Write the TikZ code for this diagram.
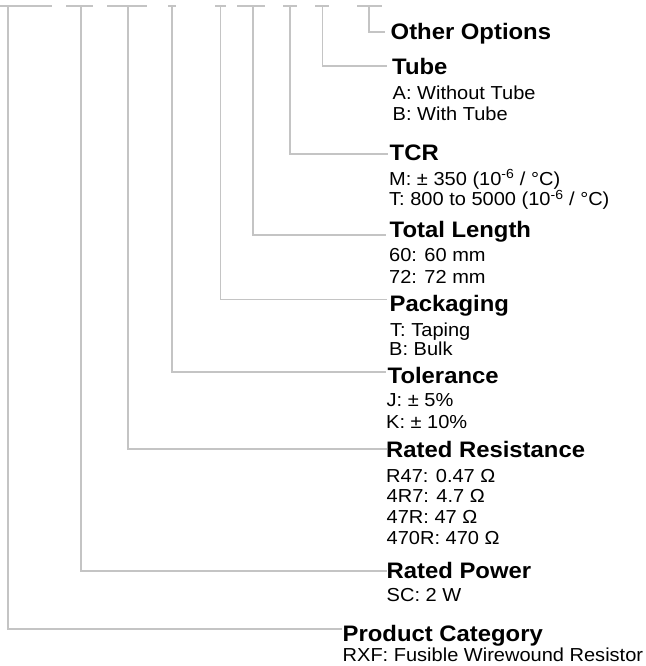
\documentclass[tikz,border=0pt]{standalone}
\usepackage{fontspec}
\setmainfont{Liberation Sans}[FakeStretch=1.065]
\definecolor{conncol}{RGB}{196,196,196}
\tikzset{
  conn/.style={draw=conncol, line width=1.8pt},
  ttl/.style={anchor=base west, inner sep=0pt, font=\fontsize{22.4}{24}\selectfont\bfseries},
  bdy/.style={anchor=base west, inner sep=0pt, font=\fontsize{18.8}{20.7}\selectfont},
}
\begin{document}
\begin{tikzpicture}[x=1pt,y=-1pt]
\useasboundingbox (0,0) rectangle (645,666);

% top bars (left end, right end) and vertical start points
\coordinate (bl1) at (0,6);   \coordinate (br1) at (52,6);  \coordinate (v1) at (8,6);
\coordinate (bl2) at (66,6);  \coordinate (br2) at (93,6);  \coordinate (v2) at (81,6);
\coordinate (bl3) at (107,6); \coordinate (br3) at (147,6); \coordinate (v3) at (128,6);
\coordinate (bl4) at (168,6); \coordinate (br4) at (176,6); \coordinate (v4) at (172,6);
\coordinate (bl5) at (215,6); \coordinate (br5) at (226,6); \coordinate (v5) at (220.5,6);
\coordinate (bl6) at (237,6); \coordinate (br6) at (265,6); \coordinate (v6) at (253,6);
\coordinate (bl7) at (283,6); \coordinate (br7) at (297,6); \coordinate (v7) at (290,6);
\coordinate (bl8) at (315,6); \coordinate (br8) at (329,6); \coordinate (v8) at (322.5,6);
\coordinate (bl9) at (357,6); \coordinate (br9) at (382,6); \coordinate (v9) at (369,6);

% connector end points (at the labels)
\coordinate (e1) at (342,628.8);
\coordinate (e2) at (386.5,571);
\coordinate (e3) at (386.5,449);
\coordinate (e4) at (386,372);
\coordinate (e5) at (387,299.5);
\coordinate (e6) at (385.5,235);
\coordinate (e7) at (388,154);
\coordinate (e8) at (387,65.7);
\coordinate (e9) at (385,32.3);

\foreach \i in {1,...,9}{
  \draw[conn] (bl\i) -- (br\i);
  \draw[conn] (v\i) |- (e\i);
}

% Other Options
\node[ttl] (oo) at (390.5,39.3) {Other Options};
% Tube
\node[ttl] (tube) at (392,75) {Tube};
\node[bdy] (tubeA) at (392.5,100) {A: Without Tube};
\node[bdy] (tubeB) at (392.5,120.7) {B: With Tube};
% TCR
\node[ttl] (tcr) at (389.5,160.7) {TCR};
\node[bdy] (tcrM) at (389,185) {M: ± 350 (10\textsuperscript{-6} / °C)};
\node[bdy] (tcrT) at (389,205.5) {T: 800 to 5000 (10\textsuperscript{-6} / °C)};
% Total Length
\node[ttl] (tl) at (389.5,237.8) {Total Length};
\node[bdy] (tl60) at (389,261) {60: 60 mm};
\node[bdy] (tl72) at (389,283) {72: 72 mm};
% Packaging
\node[ttl] (pk) at (389.5,311.6) {Packaging};
\node[bdy] (pkT) at (390,336) {T: Taping};
\node[bdy] (pkB) at (389,355.7) {B: Bulk};
% Tolerance
\node[ttl] (tol) at (387.5,383) {Tolerance};
\node[bdy] (tolJ) at (386.5,406) {J: ± 5\%};
\node[bdy] (tolK) at (386,428) {K: ± 10\%};
% Rated Resistance
\node[ttl] (rr) at (386,457.7) {Rated Resistance};
\node[bdy] (rr1) at (386,482) {R47: 0.47 Ω};
\node[bdy] (rr2) at (386.5,502.8) {4R7: 4.7 Ω};
\node[bdy] (rr3) at (386.5,523.4) {47R: 47 Ω};
\node[bdy] (rr4) at (386.5,544.5) {470R: 470 Ω};
% Rated Power
\node[ttl] (rp) at (386.5,578.3) {Rated Power};
\node[bdy] (rp1) at (386.5,601) {SC: 2 W};
% Product Category
\node[ttl] (pc) at (342.5,641) {Product Category};
\node[bdy] (pc1) at (342.5,661.7) {RXF: Fusible Wirewound Resistor};
\end{tikzpicture}
\end{document}
